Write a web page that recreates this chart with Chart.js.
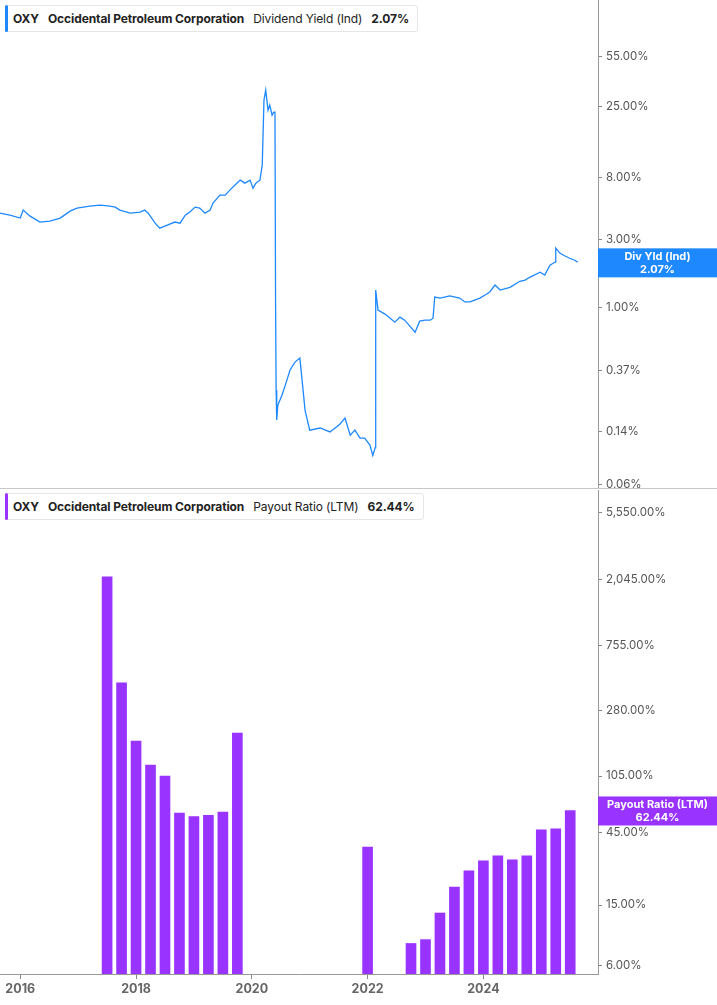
<!DOCTYPE html>
<html>
<head>
<meta charset="utf-8">
<script src="https://cdn.jsdelivr.net/npm/chart.js@4"></script>
<style>
  body { margin: 0; background: #fff; font-family: Inter, "Noto Sans", sans-serif; }
  #wrap { position: relative; width: 717px; height: 1005px; }
  #top { position: absolute; left: 0; top: 0; }
  #bottom { position: absolute; left: 0; top: 489px; }
  .sep { position: absolute; left: 0; top: 488px; width: 717px; height: 1px; background: #c8c8c8; }
  .legend { position: absolute; left: 5px; height: 25px; line-height: 25px; background: #fff;
    border: 1px solid #e6e6e6; border-radius: 3px; font-size: 12px; color: #222; padding: 0 8px 0 7px;
    white-space: nowrap; letter-spacing: -0.1px; }
  .legend:before { content: ""; position: absolute; left: -1px; top: -1px; bottom: -1px; width: 3px; border-radius: 2px; }
  .l1:before { background: #1e88ff; }
  .l2:before { background: #9933ff; }
  .legend b { font-weight: 700; margin-right: 9px; }
  .legend span { margin-right: 9px; }
</style>
</head>
<body>
<div id="wrap">
  <canvas id="top" width="717" height="489"></canvas>
  <canvas id="bottom" width="717" height="516"></canvas>
  <div class="sep"></div>
  <div class="legend l1" style="top:5px"><b>OXY</b><b>Occidental Petroleum Corporation</b><span>Dividend Yield (Ind)</span><b style="margin:0">2.07%</b></div>
  <div class="legend l2" style="top:493px"><b>OXY</b><b>Occidental Petroleum Corporation</b><span>Payout Ratio (LTM)</span><b style="margin:0">62.44%</b></div>
</div>
<script>
const divDates = [2015.65, 2015.82, 2016.0, 2016.05, 2016.17, 2016.34, 2016.51, 2016.69, 2016.86, 2016.98,
  2017.2, 2017.38, 2017.55, 2017.64, 2017.72, 2017.9, 2018.07, 2018.15, 2018.21, 2018.33, 2018.41, 2018.5,
  2018.67, 2018.76, 2018.85, 2018.93, 2019.02, 2019.1, 2019.19, 2019.28, 2019.33, 2019.45, 2019.54, 2019.62,
  2019.71, 2019.8, 2019.88, 2019.97, 2020.02, 2020.07, 2020.14, 2020.18, 2020.21, 2020.24, 2020.28, 2020.31,
  2020.35, 2020.38, 2020.4, 2020.41, 2020.42, 2020.43, 2020.45, 2020.52, 2020.59, 2020.66, 2020.745, 2020.83,
  2020.92, 2021.0, 2021.18, 2021.35, 2021.52, 2021.61, 2021.7, 2021.78, 2021.87, 2021.95, 2022.04, 2022.09,
  2022.13, 2022.14, 2022.18, 2022.3, 2022.39, 2022.47, 2022.56, 2022.64, 2022.73, 2022.82, 2022.9, 2022.99,
  2023.08, 2023.13, 2023.16, 2023.25, 2023.42, 2023.59, 2023.68, 2023.77, 2023.94, 2024.03, 2024.11, 2024.2,
  2024.29, 2024.46, 2024.63, 2024.72, 2024.8, 2024.98, 2025.06, 2025.15, 2025.24, 2025.25, 2025.32, 2025.41,
  2025.49, 2025.58, 2025.63];
const divYield = [4.54, 4.40, 4.20, 4.77, 4.33, 3.94, 4.00, 4.20, 4.69, 4.92,
  5.08, 5.16, 5.08, 5.00, 4.77, 4.54, 4.62, 4.77, 4.54, 3.87, 3.57, 3.69,
  3.94, 3.87, 4.40, 4.62, 5.00, 4.92, 4.54, 4.77, 5.33, 6.05, 6.05, 6.56,
  7.11, 7.69, 7.33, 7.69, 6.77, 7.33, 7.69, 9.77, 27.6, 32.4, 23.5, 25.5,
  21.7, 22.8, 22.8, 1.13, 0.269, 0.167, 0.212, 0.248, 0.301, 0.371, 0.421, 0.449,
  0.195, 0.142, 0.147, 0.138, 0.156, 0.172, 0.131, 0.142, 0.125, 0.125, 0.112, 0.095,
  0.107, 1.33, 0.966, 0.906, 0.849, 0.796, 0.863, 0.822, 0.748, 0.679, 0.809, 0.822,
  0.822, 0.849, 1.19, 1.17, 1.21, 1.17, 1.10, 1.10, 1.17, 1.23, 1.29, 1.44,
  1.33, 1.39, 1.53, 1.56, 1.63, 1.77, 1.69, 1.98, 2.08, 2.60, 2.40, 2.29,
  2.21, 2.14, 2.07];
const divTicks = [0.06, 0.14, 0.37, 1, 3, 8, 25, 55];

const payoutQuarters = [2017.5, 2017.75, 2018.0, 2018.25, 2018.5, 2018.75, 2019.0, 2019.25, 2019.5, 2019.75,
  2022.0, 2022.75, 2023.0, 2023.25, 2023.5, 2023.75, 2024.0, 2024.25, 2024.5, 2024.75, 2025.0, 2025.25, 2025.5];
const payoutRatio = [2115, 428, 178, 124, 105, 60, 57, 58, 61, 201,
  36, 8.4, 8.9, 13.3, 19.7, 25.1, 29.2, 31.5, 29.7, 31.5, 46.6, 47.4, 62.44];
const payoutTicks = [6, 15, 45, 105, 280, 755, 2045, 5550];
const yearTicks = [2016, 2018, 2020, 2022, 2024];

const font = "Inter, 'Noto Sans', sans-serif";
const xMin = 2015.65, xMax = 2025.98;

function tagPlugin(value, color, line1, line2) {
  return {
    id: "tag",
    afterDraw(chart) {
      const c = chart.ctx, y = chart.scales.y.getPixelForValue(value);
      const left = chart.chartArea.right;
      c.save();
      c.fillStyle = color;
      c.fillRect(left, y - 14, chart.width - left, 29);
      c.fillStyle = "#fff";
      c.font = "bold 11px " + font;
      c.textAlign = "center";
      c.textBaseline = "middle";
      const cx = (left + chart.width) / 2;
      c.fillText(line1, cx, y - 6);
      c.fillText(line2, cx, y + 7);
      c.restore();
    },
  };
}

function yAxis(min, max, ticks) {
  return {
    type: "logarithmic",
    position: "right",
    min: min,
    max: max,
    afterBuildTicks: (axis) => { axis.ticks = ticks.map((v) => ({ value: v })); },
    afterFit: (axis) => { axis.width = 119; axis.paddingTop = 0; axis.paddingBottom = 0; },
    border: { color: "#999", width: 1 },
    grid: { drawOnChartArea: false, tickLength: 4, color: "#888" },
    ticks: {
      color: "#555",
      font: { family: font, size: 11.5 },
      padding: 4,
      callback: (v) => v.toLocaleString("en-US", { minimumFractionDigits: 2, maximumFractionDigits: 2 }) + "%",
    },
  };
}

new Chart(document.getElementById("top"), {
  type: "line",
  data: {
    datasets: [{
      data: divDates.map((d, i) => ({ x: d, y: divYield[i] })),
      borderColor: "#1e88ff",
      borderWidth: 1.3,
      pointRadius: 0,
      tension: 0,
    }],
  },
  options: {
    responsive: false,
    animation: false,
    layout: { padding: 0 },
    plugins: { legend: { display: false }, tooltip: { enabled: false } },
    scales: {
      x: { type: "linear", min: xMin, max: xMax, display: false },
      y: yAxis(0.0555, 136.5, divTicks),
    },
  },
  plugins: [tagPlugin(2.07, "#1e88ff", "Div Yld (Ind)", "2.07%")],
});

new Chart(document.getElementById("bottom"), {
  type: "bar",
  data: {
    datasets: [{
      data: payoutQuarters.map((d, i) => ({ x: d, y: payoutRatio[i] })),
      backgroundColor: "#9933ff",
      barThickness: 10,
    }],
  },
  options: {
    responsive: false,
    animation: false,
    layout: { padding: { top: 1 } },
    plugins: { legend: { display: false }, tooltip: { enabled: false } },
    scales: {
      x: {
        type: "linear",
        min: xMin,
        max: xMax,
        offset: false,
        afterBuildTicks: (axis) => { axis.ticks = yearTicks.map((v) => ({ value: v })); },
        afterFit: (axis) => { axis.height = 31; axis.paddingLeft = 0; axis.paddingRight = 0; },
        border: { color: "#999", width: 1 },
        grid: { drawOnChartArea: false, tickLength: 5, color: "#888", offset: false },
        ticks: {
          color: "#666",
          font: { family: font, size: 12.5, weight: "bold" },
          padding: 3,
          maxRotation: 0,
          callback: (v) => String(v),
        },
      },
      y: yAxis(5.3, 7850, payoutTicks),
    },
  },
  plugins: [tagPlugin(62.44, "#9933ff", "Payout Ratio (LTM)", "62.44%")],
});
</script>
</body>
</html>
